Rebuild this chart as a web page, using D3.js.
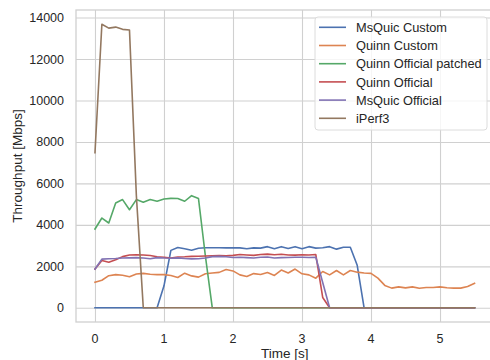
<!DOCTYPE html>
<html>
<head>
<meta charset="utf-8">
<script src="https://cdn.jsdelivr.net/npm/d3@7"></script>
<style>
  body { margin: 0; background: #fff; }
  text { font-family: "Liberation Sans", Arial, sans-serif; fill: #262626; }
</style>
</head>
<body>
<div id="chart"></div>
<script>
var time = [0.0, 0.1, 0.2, 0.3, 0.4, 0.5, 0.6, 0.7, 0.8, 0.9,
  1.0, 1.1, 1.2, 1.3, 1.4, 1.5, 1.6, 1.7, 1.8, 1.9,
  2.0, 2.1, 2.2, 2.3, 2.4, 2.5, 2.6, 2.7, 2.8, 2.9,
  3.0, 3.1, 3.2, 3.3, 3.4, 3.5, 3.6, 3.7, 3.8, 3.9,
  4.0, 4.1, 4.2, 4.3, 4.4, 4.5, 4.6, 4.7, 4.8, 4.9,
  5.0, 5.1, 5.2, 5.3, 5.4, 5.5];

var msquicCustom = [0, 0, 0, 0, 0, 0, 0, 0, 0, 0,
  1060, 2770, 2910, 2850, 2780, 2870, 2900, 2900, 2900, 2890,
  2900, 2890, 2850, 2890, 2880, 2950, 2850, 2950, 2860, 2950,
  2850, 2950, 2880, 2900, 2950, 2830, 2920, 2920, 2050, 0,
  0, 0, 0, 0, 0, 0, 0, 0, 0, 0,
  0, 0, 0, 0, 0, 0];

var quinnCustom = [1230, 1330, 1550, 1600, 1570, 1500, 1630, 1660, 1620, 1600,
  1600, 1560, 1460, 1670, 1540, 1480, 1640, 1680, 1710, 1850,
  1780, 1590, 1510, 1650, 1610, 1700, 1560, 1820, 1680, 1870,
  1640, 1590, 1430, 1750, 1590, 1800, 1590, 1800, 1720, 1680,
  1660, 1430, 1080, 950, 1010, 960, 1010, 940, 980, 980,
  1010, 970, 950, 950, 1030, 1180];

var quinnPatched = [3800, 4330, 4090, 5060, 5220, 4730, 5220, 5090, 5220, 5140,
  5250, 5280, 5270, 5140, 5410, 5270, 2500, 0, 0, 0,
  0, 0, 0, 0, 0, 0, 0, 0, 0, 0,
  0, 0, 0, 0, 0, 0, 0, 0, 0, 0,
  0, 0, 0, 0, 0, 0, 0, 0, 0, 0,
  0, 0, 0, 0, 0, 0];

var quinnOfficial = [1870, 2280, 2200, 2320, 2470, 2550, 2560, 2550, 2520, 2460,
  2440, 2400, 2450, 2460, 2480, 2490, 2500, 2510, 2520, 2510,
  2530, 2570, 2550, 2530, 2570, 2590, 2560, 2580, 2550, 2540,
  2560, 2550, 2570, 500, 0, 0, 0, 0, 0, 0,
  0, 0, 0, 0, 0, 0, 0, 0, 0, 0,
  0, 0, 0, 0, 0, 0];

var msquicOfficial = [1870, 2350, 2370, 2380, 2400, 2410, 2420, 2400, 2370, 2420,
  2400, 2390, 2410, 2380, 2360, 2370, 2400, 2470, 2480, 2460,
  2430, 2440, 2420, 2400, 2440, 2450, 2400, 2420, 2430, 2440,
  2440, 2430, 2440, 1220, 0, 0, 0, 0, 0, 0,
  0, 0, 0, 0, 0, 0, 0, 0, 0, 0,
  0, 0, 0, 0, 0, 0];

var iperf3 = [7480, 13680, 13490, 13540, 13430, 13400, 5400, 0, 0, 0,
  0, 0, 0, 0, 0, 0, 0, 0, 0, 0,
  0, 0, 0, 0, 0, 0, 0, 0, 0, 0,
  0, 0, 0, 0, 0, 0, 0, 0, 0, 0,
  0, 0, 0, 0, 0, 0, 0, 0, 0, 0,
  0, 0, 0, 0, 0, 0];

var seriesNames = ["MsQuic Custom", "Quinn Custom", "Quinn Official patched",
  "Quinn Official", "MsQuic Official", "iPerf3"];
var seriesValues = [msquicCustom, quinnCustom, quinnPatched, quinnOfficial, msquicOfficial, iperf3];
var colors = ["#4c72b0", "#dd8452", "#55a868", "#c44e52", "#8172b3", "#937860"];

var xTicks = [0, 1, 2, 3, 4, 5];
var yTicks = [0, 2000, 4000, 6000, 8000, 10000, 12000, 14000];

var W = 490, H = 360;
var margin = { top: 10, right: 493.5, bottom: 322, left: 76 };

var svg = d3.select("#chart").append("svg")
  .attr("width", W)
  .attr("height", H);

// matplotlib style 5% margins
var xMin = d3.min(time), xMax = d3.max(time);
var xPad = (xMax - xMin) * 0.05;
var yMax = d3.max(seriesValues, function (s) { return d3.max(s); });
var yPad = yMax * 0.05;

var x = d3.scaleLinear().domain([xMin - xPad, xMax + xPad]).range([margin.left, margin.right]);
var y = d3.scaleLinear().domain([-yPad, yMax + yPad]).range([margin.bottom, margin.top]);

// grid
svg.append("g")
  .attr("transform", "translate(0," + margin.bottom + ")")
  .call(d3.axisBottom(x).tickValues(xTicks).tickSize(-(margin.bottom - margin.top)).tickFormat(""))
  .call(function (g) { g.select(".domain").remove(); })
  .selectAll("line").attr("stroke", "#d0d0d0").attr("stroke-width", 1.1);

svg.append("g")
  .attr("transform", "translate(" + margin.left + ",0)")
  .call(d3.axisLeft(y).tickValues(yTicks).tickSize(-(margin.right - margin.left)).tickFormat(""))
  .call(function (g) { g.select(".domain").remove(); })
  .selectAll("line").attr("stroke", "#d0d0d0").attr("stroke-width", 1.1);

// frame
svg.append("rect")
  .attr("x", margin.left).attr("y", margin.top)
  .attr("width", margin.right - margin.left).attr("height", margin.bottom - margin.top)
  .attr("fill", "none").attr("stroke", "#d0d0d0").attr("stroke-width", 1.3);

// tick labels
svg.append("g").selectAll("text")
  .data(xTicks).enter().append("text")
  .attr("x", function (d) { return x(d); })
  .attr("y", 343)
  .attr("text-anchor", "middle")
  .style("font-size", "12.5px")
  .text(function (d) { return d; });

svg.append("g").selectAll("text")
  .data(yTicks).enter().append("text")
  .attr("x", 64)
  .attr("y", function (d) { return y(d) + 4.5; })
  .attr("text-anchor", "end")
  .style("font-size", "12.5px")
  .text(function (d) { return d; });

// axis labels
svg.append("text")
  .attr("x", (margin.left + margin.right) / 2)
  .attr("y", 357.5)
  .attr("text-anchor", "middle")
  .style("font-size", "13.5px")
  .text("Time [s]");

svg.append("text")
  .attr("transform", "translate(22," + ((margin.top + margin.bottom) / 2) + ") rotate(-90)")
  .attr("text-anchor", "middle")
  .style("font-size", "13.5px")
  .text("Throughput [Mbps]");

// lines
var line = d3.line()
  .x(function (d, i) { return x(time[i]); })
  .y(function (d) { return y(d); });

svg.append("g").selectAll("path")
  .data(seriesValues).enter().append("path")
  .attr("d", line)
  .attr("fill", "none")
  .attr("stroke", function (d, i) { return colors[i]; })
  .attr("stroke-width", 1.6)
  .attr("stroke-linejoin", "round")
  .attr("stroke-linecap", "square");

// legend
var lg = svg.append("g");
lg.append("rect")
  .attr("x", 315).attr("y", 17)
  .attr("width", 172).attr("height", 113)
  .attr("rx", 3)
  .attr("fill", "rgba(255,255,255,0.8)")
  .attr("stroke", "#dcdcdc").attr("stroke-width", 1);

var items = lg.selectAll("g.item")
  .data(seriesNames).enter().append("g")
  .attr("transform", function (d, i) { return "translate(0," + (27.3 + i * 18.2) + ")"; });

items.append("line")
  .attr("x1", 319).attr("x2", 346)
  .attr("y1", 0).attr("y2", 0)
  .attr("stroke", function (d, i) { return colors[i]; })
  .attr("stroke-width", 1.6);

items.append("text")
  .attr("x", 356).attr("y", 4.6)
  .style("font-size", "12.8px")
  .text(function (d) { return d; });
</script>
</body>
</html>
